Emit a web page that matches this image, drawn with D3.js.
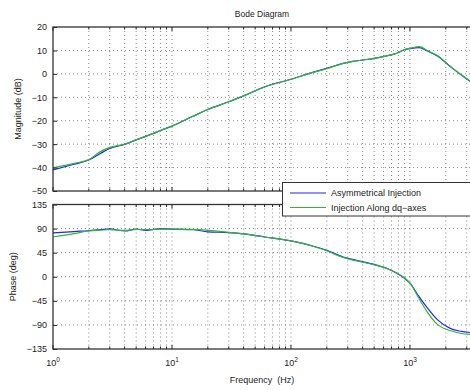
<!DOCTYPE html>
<html><head><meta charset="utf-8">
<script src="https://cdn.jsdelivr.net/npm/d3@7"></script>
<style>
body{margin:0;background:#fff;}
svg{display:block;font-family:"Liberation Sans",Arial,sans-serif;}
</style></head>
<body><div id="chart"></div>
<script>
const freqs = [1,1.5,2,2.5,3,4,5,6,7,8,10,15,20,30,40,60,100,150,200,275,350,500,650,775,900,1000,1200,1400,1700,2200,2700,3500];
const magAsym = [-41.0,-38.6,-36.8,-34.0,-31.8,-30.1,-28.2,-26.7,-25.4,-24.2,-22.3,-18.1,-15.2,-11.9,-9.4,-5.5,-2.3,0.5,2.4,4.5,5.5,6.6,7.8,8.8,10.3,10.8,11.2,9.8,7.6,3.0,-0.5,-4.5];
const magDq   = [-40.1,-38.2,-36.6,-33.2,-31.4,-30.0,-28.2,-26.7,-25.4,-24.2,-22.3,-18.1,-15.2,-11.9,-9.4,-5.6,-2.3,0.5,2.2,4.5,5.5,6.6,7.8,8.8,10.4,10.9,11.6,10.0,7.8,3.0,-0.4,-4.4];
const phaseAsym = [81.8,84.5,86,88,89.3,85.5,89,86.5,88.5,90,89,88,84,82.5,80,74.3,67,58,49.4,37,31,23,15,6.5,-3,-12,-38,-58,-80,-97,-102,-105];
const phaseDq   = [74.3,80.5,85.5,87,88,86.5,88.5,88,88.5,89,89,88.5,86.8,83,80,74.3,67,57.5,48.5,36,30,22.5,15,7,-2,-12,-42,-66,-89,-101,-106,-108];
const seriesNames = ["Asymmetrical Injection","Injection Along dq\u2212axes"];
const seriesColors = ["#2323f5","#2fb82f"];
const magTicks = [-50,-40,-30,-20,-10,0,10,20];
const phaseTicks = [-135,-90,-45,0,45,90,135];
const decadeTicks = [1,10,100,1000];
const decadeExp = ["0","1","2","3"];

const W=470,H=390;
const svg=d3.select("#chart").append("svg").attr("width",W).attr("height",H);

const x=d3.scaleLog().domain([1,3500]).range([53,474.7]);
const yMag=d3.scaleLinear().domain([-50,20]).range([191,27]);
const yPh=d3.scaleLinear().domain([-135,135]).range([349,204.5]);

const minorX=[];
for(let k=0;k<4;k++)for(let m=1;m<10;m++){const v=m*Math.pow(10,k); if(v<=3500) minorX.push(v);}

function panel(y,ticks,series,labelText,labelX){
  const [y0,y1]=y.range();
  const xl=x.range()[0], xr=x.range()[1];
  const g=svg.append("g");
  g.append("rect").attr("x",xl).attr("y",y1).attr("width",xr-xl).attr("height",y0-y1).attr("fill","#fff");
  g.selectAll(".vg").data(minorX.filter(v=>v>1)).enter().append("line")
    .attr("x1",d=>x(d)).attr("x2",d=>x(d)).attr("y1",y1).attr("y2",y0)
    .attr("stroke","#555").attr("stroke-width",0.7).attr("stroke-dasharray","1,3");
  g.selectAll(".hg").data(ticks.slice(1,-1)).enter().append("line")
    .attr("x1",xl).attr("x2",xr).attr("y1",d=>y(d)).attr("y2",d=>y(d))
    .attr("stroke","#555").attr("stroke-width",0.7).attr("stroke-dasharray","1,3");
  const clipId="clip"+labelX;
  svg.append("clipPath").attr("id",clipId).append("rect").attr("x",xl).attr("y",y1).attr("width",xr-xl).attr("height",y0-y1);
  const line=d3.line().x((d,i)=>x(freqs[i])).y(d=>y(d)).curve(d3.curveMonotoneX);
  series.forEach((s,i)=>{
    g.append("path").attr("d",line(s)).attr("fill","none").attr("stroke",seriesColors[i]).attr("stroke-width",1.2).attr("clip-path","url(#"+clipId+")");
  });
  const yAxis=d3.axisLeft(y).tickValues(ticks).tickSize(-4).tickPadding(6);
  const ga=g.append("g").attr("transform","translate("+xl+",0)").call(yAxis);
  ga.select(".domain").remove();
  ga.selectAll("line").attr("stroke","#222");
  ga.selectAll("text").attr("font-size",9).attr("fill","#222").text(d=>d<0?"\u2212"+(-d):d);
  [y0,y1].forEach((yy,j)=>{
    const dir=j===0?-1:1;
    g.selectAll(null).data(minorX).enter().append("line")
      .attr("x1",d=>x(d)).attr("x2",d=>x(d)).attr("y1",yy)
      .attr("y2",d=>yy+dir*(decadeTicks.includes(d)?4:2.5))
      .attr("stroke","#222").attr("stroke-width",1);
  });
  g.append("rect").attr("x",xl).attr("y",y1).attr("width",xr-xl).attr("height",y0-y1)
    .attr("fill","none").attr("stroke","#333").attr("stroke-width",1.3);
  svg.append("text").attr("transform","translate("+labelX+","+((y0+y1)/2)+") rotate(-90)")
    .attr("text-anchor","middle").attr("font-size",9).attr("fill","#222").text(labelText);
}

panel(yMag,magTicks,[magAsym,magDq],"Magnitude (dB)",21);
panel(yPh,phaseTicks,[phaseAsym,phaseDq],"Phase (deg)",16);

const xt=svg.append("g");
decadeTicks.forEach((v,i)=>{
  const t=xt.append("text").attr("x",x(v)).attr("y",366).attr("text-anchor","middle").attr("font-size",9).attr("fill","#222");
  t.append("tspan").text("10");
  t.append("tspan").attr("dy",-4).attr("font-size",6.5).text(decadeExp[i]);
});

svg.append("text").attr("x",262).attr("y",17).attr("text-anchor","middle").attr("font-size",8.5).attr("fill","#222").text("Bode Diagram");
svg.append("text").attr("x",262).attr("y",383).attr("text-anchor","middle").attr("font-size",9).attr("fill","#222").attr("xml:space","preserve").text("Frequency  (Hz)");

const lg=svg.append("g");
lg.append("rect").attr("x",282.5).attr("y",182.5).attr("width",200).attr("height",33.5).attr("fill","#fff").attr("stroke","#333").attr("stroke-width",1);
seriesNames.forEach((n,i)=>{
  const yy=193+i*14.5;
  lg.append("line").attr("x1",290).attr("x2",326).attr("y1",yy).attr("y2",yy).attr("stroke",seriesColors[i]).attr("stroke-width",1.2);
  lg.append("text").attr("x",331).attr("y",yy+3.2).attr("font-size",9).attr("fill","#222").text(n);
});
</script></body></html>
